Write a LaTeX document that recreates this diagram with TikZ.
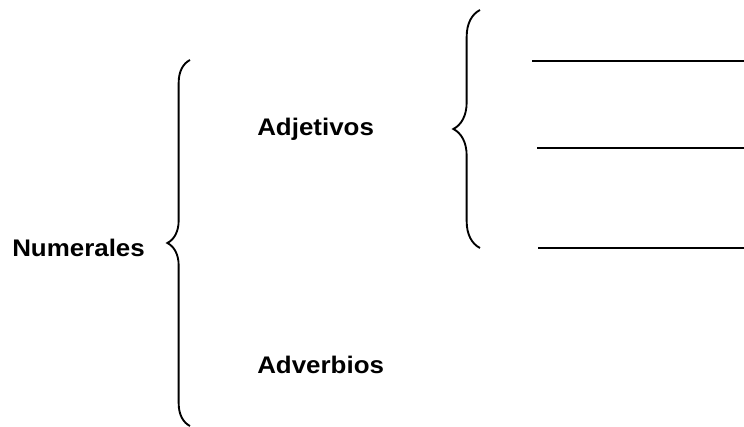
\documentclass[tikz,border=0pt]{standalone}
\usepackage{fontspec}
\setmainfont{Liberation Sans}
\newfontfamily\labelfont[FakeStretch=1.08]{Liberation Sans}
\usetikzlibrary{decorations.pathreplacing}

\tikzset{
    term/.style={anchor=base west,inner sep=0pt,font=\labelfont\fontsize{18pt}{21pt}\selectfont\bfseries},
    bigbrace/.style={decorate,decoration={brace,amplitude=#1},line width=1.4pt},
    blank/.style={line width=1.3pt}
}

\begin{document}
\begin{tikzpicture}[x=0.75pt,y=-0.75pt]
            \useasboundingbox (0,0) rectangle (744,427);

            % words
            \node[term] (num) at (12,257) {Numerales};
            \node[term] (adj) at (257,136) {Adjetivos};
            \node[term] (adv) at (257,374) {Adverbios};

            % braces
            \coordinate (b1bot) at (190,426);
            \coordinate (b1top) at (190,60);
            \coordinate (b2bot) at (480,248);
            \coordinate (b2top) at (480,10);
            \draw[bigbrace=17] (b1bot) -- (b1top);
            \draw[bigbrace=20] (b2bot) -- (b2top);

            % blanks
            \coordinate (l1a) at (532,61);
            \coordinate (l1b) at (744,61);
            \coordinate (l2a) at (537,148);
            \coordinate (l2b) at (744,148);
            \coordinate (l3a) at (538,248);
            \coordinate (l3b) at (744,248);
            \draw[blank] (l1a) -- (l1b);
            \draw[blank] (l2a) -- (l2b);
            \draw[blank] (l3a) -- (l3b);
\end{tikzpicture}
\end{document}
